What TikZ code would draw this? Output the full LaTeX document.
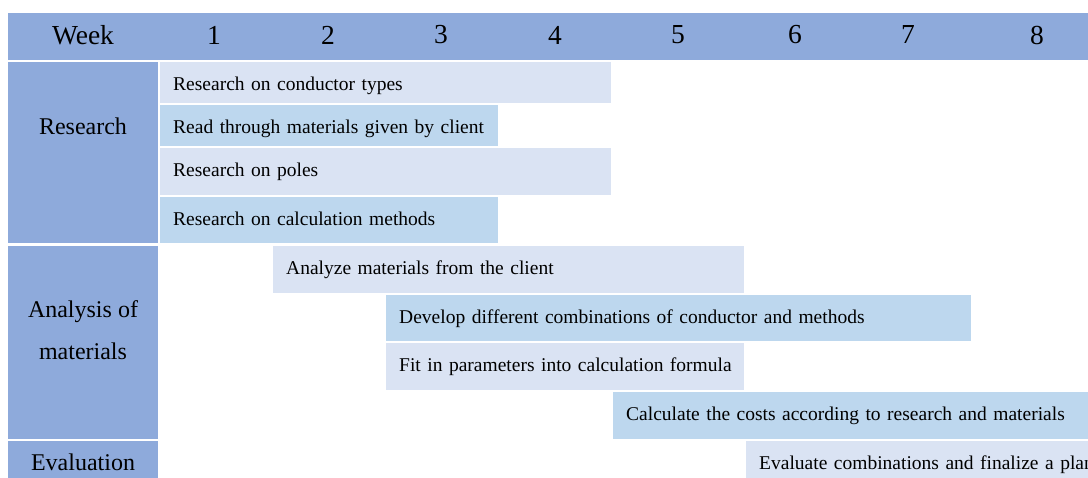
\documentclass[tikz,border=0pt]{standalone}
\usepackage{fontspec}
\setmainfont{Liberation Serif}
\definecolor{headblue}{HTML}{8EAADB}
\definecolor{barlight}{HTML}{DAE3F3}
\definecolor{bardark}{HTML}{BDD7EE}
\begin{document}
\begin{tikzpicture}
	[	x=1pt,y=-1pt,
	head/.style={rectangle,draw=none,fill=headblue,anchor=north west,inner sep=0pt},
	plain/.style={draw=none,fill=none,inner sep=0pt},
	bar/.style={rectangle,anchor=north west,inner xsep=13pt,inner ysep=0pt,align=left,text height=28pt,
		execute at begin node=\hbox\bgroup,execute at end node=\egroup,font=\fontsize{19.5}{22}\selectfont},
	light/.style={bar,fill=barlight},
	dark/.style={bar,fill=bardark}
	]
	\useasboundingbox (0,0) rectangle (1088,478);
	\clip (0,0) rectangle (1088,478);

	\node[head,minimum width=1092pt,minimum height=47pt] (headbar) at (8,13){};
	\node[head,minimum width=150pt,minimum height=181pt] (sres) at (8,62){};
	\node[head,minimum width=150pt,minimum height=193pt] (sana) at (8,246){};
	\node[head,minimum width=150pt,minimum height=45pt] (seva) at (8,441){};

\node[plain,font=\fontsize{27.5}{30}\selectfont] (week) at (83,35){Week};
\node[plain,font=\fontsize{27.5}{30}\selectfont] (w1) at (214,35){1};
\node[plain,font=\fontsize{27.5}{30}\selectfont] (w2) at (328,35){2};
\node[plain,font=\fontsize{27.5}{30}\selectfont] (w3) at (441,35){3};
\node[plain,font=\fontsize{27.5}{30}\selectfont] (w4) at (555,35){4};
\node[plain,font=\fontsize{27.5}{30}\selectfont] (w5) at (678,35){5};
\node[plain,font=\fontsize{27.5}{30}\selectfont] (w6) at (795,35){6};
\node[plain,font=\fontsize{27.5}{30}\selectfont] (w7) at (908,35){7};
\node[plain,font=\fontsize{27.5}{30}\selectfont] (w8) at (1037,35){8};

\node[plain,font=\fontsize{24}{42}\selectfont] (lres) at (83,126){Research};
\node[plain,font=\fontsize{24}{42}\selectfont,align=center] (lana) at (83,330){Analysis of\\materials};
\node[plain,font=\fontsize{24}{42}\selectfont] (leva) at (83,462){Evaluation};

	\node[light,text width=425pt,text depth=13pt] (r1) at (160,62){Research on conductor types};
	\node[dark,text width=312pt,text depth=13pt] (r2) at (160,105){Read through materials given by client};
	\node[light,text width=425pt,text depth=19pt] (r3) at (160,148){Research on poles};
	\node[dark,text width=312pt,text depth=18pt] (r4) at (160,197){Research on calculation methods};
	\node[light,text width=445pt,text depth=19pt] (a1) at (273,246){Analyze materials from the client};
	\node[dark,text width=559pt,text depth=18pt] (a2) at (386,295){Develop different combinations of conductor and methods};
	\node[light,text width=332pt,text depth=19pt] (a3) at (386,343){Fit in parameters into calculation formula};
	\node[dark,text width=461pt,text depth=19pt] (a4) at (613,392){Calculate the costs according to research and materials};
	\node[light,text width=358pt,text depth=21pt] (e1) at (746,441){Evaluate combinations and finalize a plan};
	\end{tikzpicture}
\end{document}
